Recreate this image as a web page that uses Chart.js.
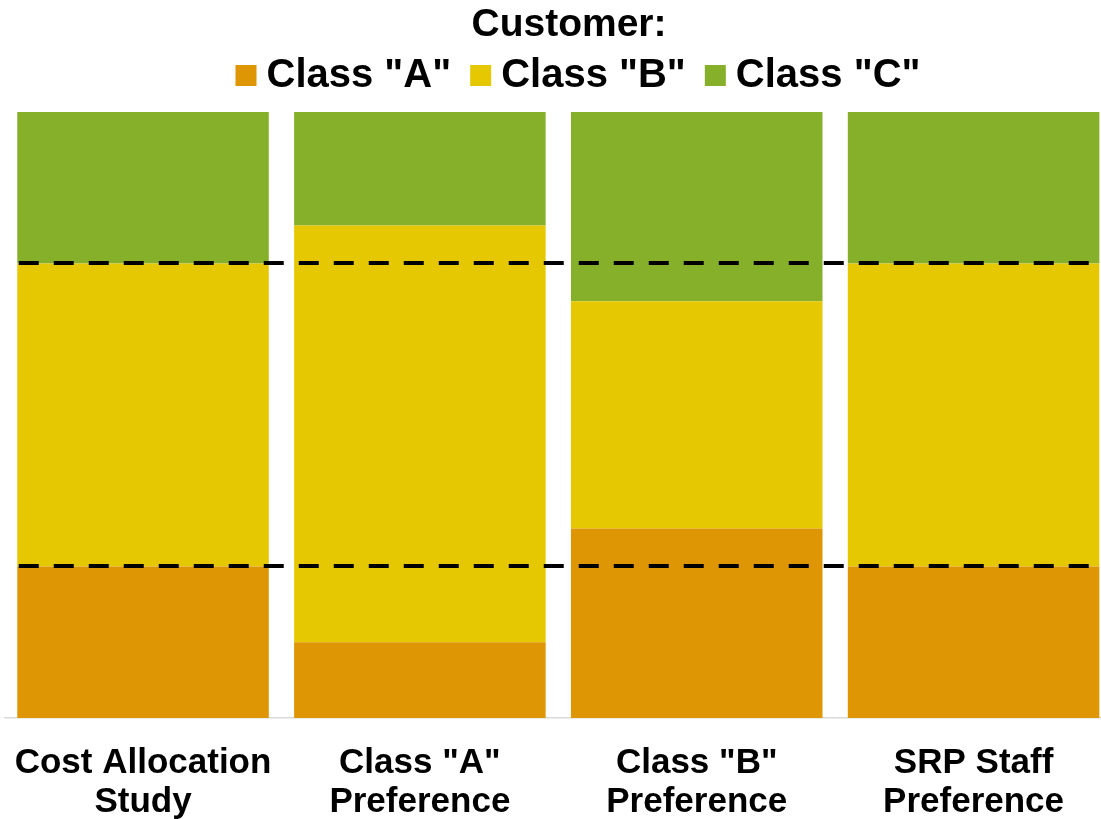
<!DOCTYPE html>
<html>
<head>
<meta charset="utf-8">
<script src="https://cdn.jsdelivr.net/npm/chart.js@4.4.1/dist/chart.umd.min.js"></script>
<style>
  html, body { margin: 0; padding: 0; background: #ffffff; overflow: hidden; }
  #wrap { width: 1101px; height: 819px; overflow: hidden; position: relative; }
  canvas { display: block; }
</style>
</head>
<body>
<div id="wrap"><canvas id="chart" width="1112" height="819"></canvas></div>
<script>
// Allocation scenarios (share of total, %)
const categories = [
  ['Cost Allocation', 'Study'],
  ['Class "A"', 'Preference'],
  ['Class "B"', 'Preference'],
  ['SRP Staff', 'Preference']
];
const seriesNames = ['Class "A"', 'Class "B"', 'Class "C"'];
const classA = [25, 12.5, 31.25, 25];
const classB = [50, 68.75, 37.5, 50];
const classC = [25, 18.75, 31.25, 25];
// Cost Allocation Study split, drawn as dashed guides across all bars
const referenceLevels = [25, 75];

const colors = ['#DE9605', '#E6C802', '#86B02A'];
const fontFamily = "'Liberation Sans', Arial, sans-serif";

Chart.defaults.font.family = fontFamily;
Chart.defaults.color = '#000000';

// Dashed horizontal guides at the study's class boundaries
const referenceLines = {
  id: 'referenceLines',
  afterDatasetsDraw(chart) {
    const { ctx, chartArea, scales } = chart;
    const firstBar = chart.getDatasetMeta(0).data[0];
    const startX = firstBar.x - firstBar.width / 2 + 1.5;
    ctx.save();
    ctx.strokeStyle = '#000000';
    ctx.lineWidth = 4;
    ctx.setLineDash([20, 15]);
    referenceLevels.forEach(v => {
      const y = Math.round(scales.y.getPixelForValue(v));
      ctx.beginPath();
      ctx.moveTo(startX, y);
      ctx.lineTo(chartArea.right, y);
      ctx.stroke();
    });
    ctx.restore();
  }
};

// Nudge the heading and the legend row right of the plot centre
const headerOffset = {
  id: 'headerOffset',
  afterLayout(chart) {
    const t = chart.titleBlock;
    if (t) { t.left += 10.7; t.right += 10.7; }
    const lg = chart.legend;
    if (lg) { lg.left += 24.7; lg.right += 24.7; }
  }
};

new Chart(document.getElementById('chart'), {
  type: 'bar',
  data: {
    labels: categories,
    datasets: [
      { label: seriesNames[0], data: classA, backgroundColor: colors[0] },
      { label: seriesNames[1], data: classB, backgroundColor: colors[1] },
      { label: seriesNames[2], data: classC, backgroundColor: colors[2] }
    ]
  },
  options: {
    responsive: false,
    animation: false,
    devicePixelRatio: 1,
    layout: { padding: { left: 4.6, right: 0, top: 0, bottom: -3 } },
    datasets: {
      bar: { categoryPercentage: 1, barPercentage: 0.9086, borderWidth: 0 }
    },
    scales: {
      x: {
        stacked: true,
        grid: { display: false, drawTicks: true, tickLength: 26 },
        border: { display: true, color: '#d9d9d9', width: 1.5 },
        ticks: {
          padding: 0,
          maxRotation: 0,
          autoSkip: false,
          color: '#000000',
          font: { size: 35, weight: 'bold', lineHeight: 39 / 35 }
        }
      },
      y: {
        stacked: true,
        display: false,
        min: 0,
        max: 101.07
      }
    },
    plugins: {
      tooltip: { enabled: false },
      title: {
        display: true,
        text: 'Customer:',
        color: '#000000',
        align: 'center',
        padding: { top: 6, bottom: -18.5 },
        font: { size: 39, weight: 'bold', lineHeight: 1 }
      },
      legend: {
        display: true,
        position: 'top',
        align: 'center',
        labels: {
          usePointStyle: true,
          pointStyle: 'rect',
          boxWidth: 1,
          boxHeight: 21,
          padding: 29,
          color: '#000000',
          font: { size: 40, weight: 'bold' }
        }
      }
    }
  },
  plugins: [referenceLines, headerOffset]
});
</script>
</body>
</html>
